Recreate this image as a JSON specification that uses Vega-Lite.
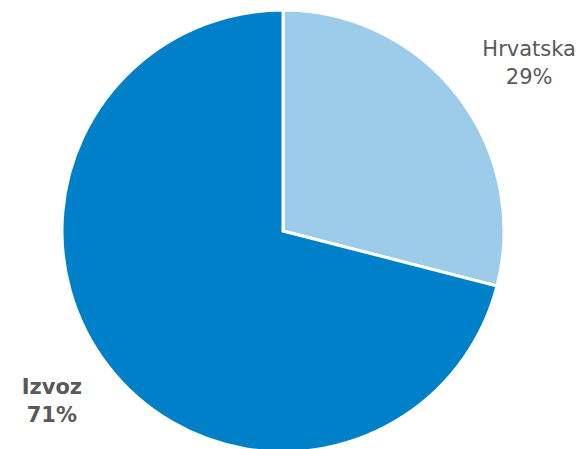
{
  "$schema": "https://vega.github.io/schema/vega-lite/v6.json",
  "width": 566,
  "height": 462,
  "padding": {"left": 0, "top": 0, "right": 20, "bottom": 0},
  "autosize": "none",
  "background": "white",
  "config": {"view": {"stroke": null}},
  "data": {"values": [
    {"kategorija": "Hrvatska", "udio": 29},
    {"kategorija": "Izvoz", "udio": 71}
  ]},
  "transform": [
    {"stack": "udio", "groupby": [], "sort": [{"field": "kategorija", "order": "ascending"}], "as": ["t0", "t1"]},
    {"calculate": "(datum.t0 + datum.t1) / 2", "as": "tsred"},
    {"calculate": "[datum.kategorija, datum.udio + '%']", "as": "oznaka"}
  ],
  "resolve": {"scale": {"theta": "shared"}},
  "layer": [
    {
      "mark": {"type": "arc", "outerRadius": 221, "stroke": "white", "strokeWidth": 3},
      "encoding": {
        "theta": {"field": "t0", "type": "quantitative", "scale": {"domain": [0, 100]}},
        "theta2": {"field": "t1"},
        "color": {"field": "kategorija", "type": "nominal", "legend": null,
          "scale": {"domain": ["Hrvatska", "Izvoz"], "range": ["#9DCBEA", "#0080C8"]}}
      }
    },
    {
      "transform": [{"filter": "datum.kategorija === 'Hrvatska'"}],
      "mark": {"type": "text", "radius": 290, "dx": 17, "dy": -3, "font": "DejaVu Sans", "fontSize": 21, "lineHeight": 28, "color": "#595959", "align": "center", "baseline": "middle"},
      "encoding": {
        "theta": {"field": "tsred", "type": "quantitative", "stack": null, "scale": {"domain": [0, 100]}},
        "text": {"field": "oznaka"}
      }
    },
    {
      "transform": [{"filter": "datum.kategorija === 'Izvoz'"}],
      "mark": {"type": "text", "radius": 290, "dx": -2, "dy": -21, "font": "DejaVu Sans", "fontSize": 21, "fontWeight": "bold", "lineHeight": 28, "color": "#595959", "align": "center", "baseline": "middle"},
      "encoding": {
        "theta": {"field": "tsred", "type": "quantitative", "stack": null, "scale": {"domain": [0, 100]}},
        "text": {"field": "oznaka"}
      }
    }
  ]
}
